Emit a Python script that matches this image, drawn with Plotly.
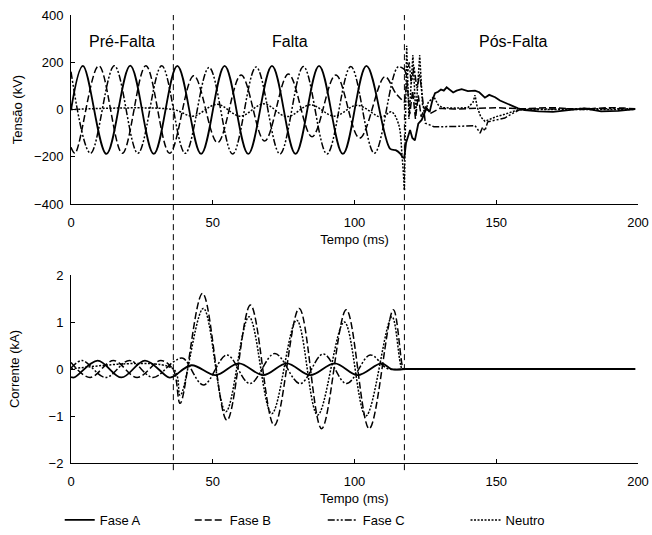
import plotly.graph_objects as go

# Fault inception and clearing instants (ms)
FAULT_START = 36.1
FAULT_CLEAR = 117.6

# ---------------- Phase / neutral voltages (kV) ----------------
t_va = [0, 4.2, 12.5, 20.9, 29.2, 37.5, 45.9, 54.2, 62.5, 70.9, 79.2, 87.5, 95.9, 104.2,
        112.5, 114.5, 116.0, 117.3, 117.6,
        118.2, 119.6, 120.4, 121.3, 122.5, 123.7, 124.5, 125.4, 126.5, 127.5, 128.4, 129.5,
        130.5, 131.5, 132.5, 134.8, 136.0, 137.8, 140.0, 142.5, 144.0, 145.0, 146.0, 147.5,
        149.6, 151.3, 153.0, 155.0, 157.7, 160.0, 165.0, 170.0, 176.0, 181.0, 187.0, 193.0, 199.0]
va = [-2, 185, -188, 186, -188, 185, -188, 185, -188, 185, -188, 185, -188, 185,
      -165, -172, -185, -205, -200,
      -140, -87, -120, -130, -60, -44, -20, 6, -10, 40, 69, 75,
      85, 80, 94, 72, 80, 86, 78, 80, 73, 62, 50, 62,
      52, 38, 29, 18, 5, -2, -8, -10, -3, 5, -8, -6, 2]

t_vb = [0, 1.4, 9.8, 18.1, 26.4, 34.8, 43.3, 51.7, 60.0, 68.3, 76.7, 85.0, 93.4, 101.8, 110.7,
        114.5, 117.6,
        118.5, 119.5, 120.5, 121.5, 122.5, 123.5, 125.0, 127.0, 130.0, 135.0, 140.0, 145.0,
        150.0, 155.0, 160.0, 165.0, 170.0, 175.0, 180.0, 185.0, 190.0, 195.0, 199.0]
vb = [-160, -185, 185, -185, 185, -185, 143, -140, 146, -133, 150, -115, 146, -121, 139,
      70, 30,
      120, -20, 80, -40, 60, -30, 10, -15, 5, 2, 5, 8,
      8, 5, 3, 6, 8, 4, 0, 5, 8, 6, 3]

t_vc = [0, 6.9, 15.3, 23.6, 32.0, 40.3, 48.7, 57.0, 65.3, 73.7, 82.0, 90.3, 98.7, 107.0, 115.3,
        117.6,
        118.5, 119.3, 120.0, 121.0, 122.0, 123.0, 124.0, 125.0, 126.5, 128.0, 135.0, 142.5,
        143.5, 144.3, 145.2, 146.0, 147.0, 150.0, 153.0, 156.0, 158.0, 162.0, 170.0, 180.0,
        190.0, 199.0]
vc = [160, -185, 185, -185, 185, -185, 178, -188, 180, -188, 182, -188, 182, -185, 180,
      170,
      140, 200, 110, 180, 90, 150, 40, -58, -65, -73, -72, -68,
      -85, -100, -75, -90, -52, -45, -36, -15, -2, 3, 2, 4,
      2, 3]

t_vn = [0, 36.1, 43.0, 51.5, 59.7, 68.0, 76.2, 84.5, 92.8, 101.0, 109.4, 113.0, 115.5, 116.8,
        117.6,
        118.4, 119.2, 120.6, 121.6, 123.0, 124.0, 125.0, 126.0, 128.0, 129.5, 131.0, 135.0,
        140.0, 141.8, 142.5, 143.3, 144.5, 146.0, 148.0, 150.0, 153.0, 156.0, 158.0, 165.0,
        199.0]
vn = [0, 0, -28, 22, -28, 24, -30, 20, -28, 18, -32, -10, -60, -200,
      -340,
      270, -40, 230, -20, 230, 20, -10, 30, 54, 20, 8, 6,
      8, 30, 61, 10, -30, -50, -40, -30, -20, -8, 0, 0,
      0]

# ---------------- Phase / neutral currents (kA) ----------------
t_ia = [0, 1.1, 9.4, 17.8, 26.1, 34.5, 36.1, 42.5, 51.0, 59.2, 67.8, 76.1, 84.4, 93.0,
        101.1, 109.5, 113.0, 117.6, 199.0]
ia = [-0.17, -0.18, 0.18, -0.18, 0.18, -0.18, -0.16, 0.08, -0.13, 0.12, -0.13, 0.12, -0.13,
      0.12, -0.13, 0.12, 0.0, 0.0, 0.0]

t_ib = [0, 6.7, 15.0, 23.3, 31.7, 36.1, 38.5, 46.4, 55.0, 63.3, 71.7, 80.5, 88.4, 97.1,
        105.2, 113.7, 117.2, 117.6, 199.0]
ib = [0.14, -0.18, 0.18, -0.18, 0.18, -0.02, -0.73, 1.61, -1.09, 1.36, -1.2, 1.29, -1.27,
      1.26, -1.27, 1.26, 0.0, 0.0, 0.0]

t_ic = [0, 3.9, 12.2, 20.6, 28.9, 36.1, 39.5, 46.7, 55.0, 63.1, 71.9, 80.8, 89.0, 97.2,
        105.5, 110.5, 112.0, 117.6, 199.0]
ic = [0.02, 0.18, -0.18, 0.18, -0.18, 0.15, 0.23, -0.34, 0.30, -0.31, 0.33, -0.31, 0.32,
      -0.31, 0.30, 0.05, 0.0, 0.0, 0.0]

t_in = [0, 36.1, 38.5, 46.7, 54.6, 62.8, 70.8, 79.6, 87.0, 96.4, 104.0, 113.2, 116.8,
        117.6, 199.0]
i_n = [0, 0, -0.56, 1.29, -0.91, 1.11, -0.95, 1.04, -0.98, 1.0, -1.0, 1.11, 0.0,
       0.0, 0.0]

# Tick values
x_ticks = [0, 50, 100, 150, 200]
v_ticks = [-400, -200, 0, 200, 400]
i_ticks = [-2, -1, 0, 1, 2]

# Section labels above the voltage traces
section_names = ["Pré-Falta", "Falta", "Pós-Falta"]
section_x = [18, 77.3, 156]
section_y = 286

FONT = "Liberation Sans, Arial, sans-serif"
names = ["Fase A", "Fase B", "Fase C", "Neutro"]
line_styles = {
    "Fase A": dict(color="black", width=1.8, dash="solid"),
    "Fase B": dict(color="black", width=1.5, dash="7px,3px"),
    "Fase C": dict(color="black", width=1.5, dash="7px,2px,2px,2px,2px,2px"),
    "Neutro": dict(color="black", width=1.5, dash="2px,1.5px"),
}
# one single-entry legend per series, laid out in a row under the figure
legend_ids = ["legend", "legend2", "legend3", "legend4"]
legend_x = [0.0916, 0.291, 0.495, 0.714]

fig = go.Figure()


def add_series(name, t, v, xa, ya, legend):
    """Steady-state/fault part drawn smooth, post-clearing transient drawn piecewise."""
    lg = legend_ids[names.index(name)]
    pre = [(a, b) for a, b in zip(t, v) if a <= FAULT_CLEAR]
    post = [(a, b) for a, b in zip(t, v) if a >= FAULT_CLEAR]
    fig.add_trace(go.Scatter(
        x=[p[0] for p in pre], y=[p[1] for p in pre], mode="lines", name=name,
        legend=lg, legendgroup=name, showlegend=legend, xaxis=xa, yaxis=ya,
        line=dict(shape="spline", smoothing=1.0, **line_styles[name])))
    fig.add_trace(go.Scatter(
        x=[p[0] for p in post], y=[p[1] for p in post], mode="lines", name=name,
        legend=lg, legendgroup=name, showlegend=False, xaxis=xa, yaxis=ya,
        line=dict(shape="linear", **line_styles[name])))


volt = [(t_va, va), (t_vb, vb), (t_vc, vc), (t_vn, vn)]
curr = [(t_ia, ia), (t_ib, ib), (t_ic, ic), (t_in, i_n)]
for name, (t, v) in zip(names, volt):
    add_series(name, t, v, "x", "y", True)
for name, (t, v) in zip(names, curr):
    add_series(name, t, v, "x2", "y2", False)

for name, xs in zip(section_names, section_x):
    fig.add_annotation(x=xs, y=section_y, xref="x", yref="y", text=name, showarrow=False,
                       font=dict(family=FONT, size=16, color="black"))

# x-axis title of the current panel
fig.add_annotation(x=0.5, y=-0.080, xref="paper", yref="paper", text="Tempo (ms)",
                   showarrow=False, yanchor="middle", font=dict(family=FONT, size=13, color="black"))

# Fault inception / clearing markers spanning both panels
for tx in (FAULT_START, FAULT_CLEAR):
    fig.add_shape(type="line", xref="x", yref="paper", x0=tx, x1=tx, y0=-0.016, y1=1.0,
                  line=dict(color="black", width=1, dash="6px,4px"))

axis_common = dict(showline=True, linecolor="black", linewidth=1, showgrid=False,
                   zeroline=False, ticks="inside", ticklen=4, tickcolor="black",
                   tickfont=dict(family=FONT, size=13, color="black"), mirror=False,
                   automargin=False)

legend_common = dict(orientation="h", xref="container", yref="container", xanchor="left",
                     y=0.028, yanchor="middle", bgcolor="rgba(0,0,0,0)",
                     font=dict(family=FONT, size=13, color="black"))

fig.update_layout(
    width=652, height=535,
    margin=dict(l=71, r=14, t=15, b=72),
    paper_bgcolor="white", plot_bgcolor="white",
    font=dict(family=FONT, size=13, color="black"),
    xaxis=dict(domain=[0, 1], range=[0, 200], tickvals=x_ticks, anchor="y",
               title=dict(text="Tempo (ms)", standoff=6, font=dict(size=13)),
               ticklabelstandoff=6, **axis_common),
    yaxis=dict(domain=[0.578, 1], range=[-400, 400], tickvals=v_ticks, anchor="x",
               title=dict(text="Tensão (kV)", standoff=8, font=dict(size=13)),
               ticklabelstandoff=4, **axis_common),
    xaxis2=dict(domain=[0, 1], range=[0, 200], tickvals=x_ticks, anchor="y2",
                ticklabelstandoff=6, **axis_common),
    yaxis2=dict(domain=[0, 0.4196], range=[-2, 2], tickvals=i_ticks, anchor="x2",
                title=dict(text="Corrente (kA)", standoff=26, font=dict(size=13)),
                ticklabelstandoff=4, **axis_common),
    legend=dict(x=legend_x[0], **legend_common),
    legend2=dict(x=legend_x[1], **legend_common),
    legend3=dict(x=legend_x[2], **legend_common),
    legend4=dict(x=legend_x[3], **legend_common),
    showlegend=True,
)

fig.write_html("out.html")
